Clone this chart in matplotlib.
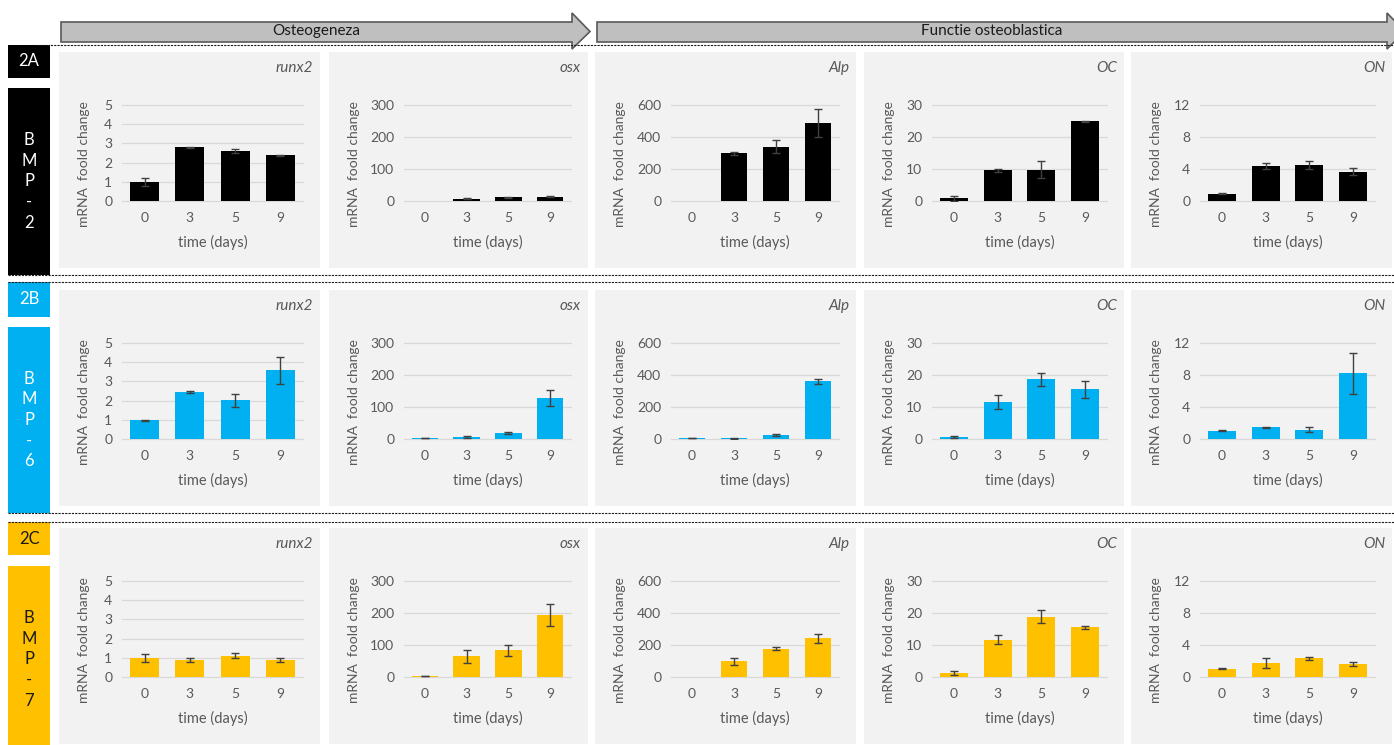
import matplotlib.pyplot as plt
from matplotlib.patches import Rectangle, Polygon

plt.rcParams['font.family'] = ['Lato', 'DejaVu Sans']

nan = float('nan')

# sampling days and genes
days = ['0', '3', '5', '9']
genes = ['runx2', 'osx', 'Alp', 'OC', 'ON']
y_tops = [5, 300, 600, 30, 12]
y_steps = [1, 100, 200, 10, 4]

# BMP-2 (means and standard errors, one list per gene)
bmp2_means = [[1.0, 2.8, 2.6, 2.38],
              [0.5, 7, 11, 14],
              [0.5, 298, 340, 486],
              [0.8, 9.6, 9.8, 24.9],
              [0.92, 4.4, 4.5, 3.65]]
bmp2_errs = [[0.22, 0.02, 0.1, 0.03],
             [nan, 2, 2, 2],
             [nan, 10, 42, 88],
             [0.7, 0.5, 2.7, 0.2],
             [0.1, 0.4, 0.5, 0.42]]

# BMP-6
bmp6_means = [[0.98, 2.45, 2.02, 3.58],
              [4, 7, 18.6, 128],
              [5, 6, 23, 360],
              [0.72, 11.6, 18.6, 15.5],
              [1.03, 1.45, 1.16, 8.2]]
bmp6_errs = [[0.02, 0.03, 0.33, 0.7],
             [0.5, 3, 3, 25],
             [0.5, 3, 6, 17],
             [0.3, 2.1, 2.1, 2.6],
             [0.05, 0.08, 0.3, 2.6]]

# BMP-7
bmp7_means = [[0.99, 0.89, 1.11, 0.89],
              [3, 65, 83, 194],
              [0, 98, 177, 242],
              [1.24, 11.6, 18.8, 15.5],
              [1.04, 1.79, 2.33, 1.62]]
bmp7_errs = [[0.22, 0.1, 0.12, 0.09],
             [1, 20, 16, 34],
             [nan, 20, 8, 29],
             [0.5, 1.4, 2.0, 0.5],
             [0.08, 0.63, 0.17, 0.3]]

row_tags = ['2A', '2B', '2C']
row_names = ['BMP-2', 'BMP-6', 'BMP-7']
row_colors = ['#000000', '#00B0F0', '#FFC000']
row_text = ['white', 'white', '#1a1a1a']
row_means = [bmp2_means, bmp6_means, bmp7_means]
row_errs = [bmp2_errs, bmp6_errs, bmp7_errs]

W, H = 1394, 745
fig = plt.figure(figsize=(W / 100, H / 100), dpi=100)

# background layer in pixel units for boxes, arrows and dashed separators
bg = fig.add_axes([0, 0, 1, 1])
bg.set_xlim(0, W)
bg.set_ylim(H, 0)
bg.axis('off')

grey_txt = '#595959'

# phase arrows on top
def arrow(x0, x_base, x_tip, label):
    pts = [(x0, 22), (x_base, 22), (x_base, 13), (x_tip, 31.5),
           (x_base, 49), (x_base, 42), (x0, 42)]
    bg.add_patch(Polygon(pts, closed=True, facecolor='#BFBFBF',
                         edgecolor='#595959', lw=1.2))
    bg.text((x0 + x_base) / 2, 31, label, ha='center', va='center',
            fontsize=11, color='#1a1a1a')

arrow(61, 572, 590, 'Osteogeneza')
arrow(597, 1387, 1405, 'Functie osteoblastica')

# dashed separators between the rows
for y, x0 in [(45, 37), (275, 8), (282, 8), (513, 8), (522, 8)]:
    bg.plot([x0, W], [y, y], color='#1a1a1a', lw=0.8,
            linestyle=(0, (2, 1)))

col_x = [(59, 320), (329, 588), (595, 856), (864, 1124), (1131, 1392)]
col_left = [63, 75, 76, 68, 69]
row_y = [52, 290, 528]
tag_y = [(45, 78), (282, 317), (522, 555)]
name_y = [(88, 275), (327, 513), (566, 745)]
panel_h = 216

for r in range(3):
    c = row_colors[r]
    t0, t1 = tag_y[r]
    bg.add_patch(Rectangle((8, t0), 42, t1 - t0, facecolor=c, edgecolor='none'))
    bg.text(29, (t0 + t1) / 2, row_tags[r], ha='center', va='center',
            fontsize=12, color=row_text[r])
    n0, n1 = name_y[r]
    bg.add_patch(Rectangle((8, n0), 42, n1 - n0, facecolor=c, edgecolor='none'))
    bg.text(29, (n0 + 183 / 2) + 2 if r == 2 else (n0 + n1) / 2,
            '\n'.join(row_names[r]), ha='center', va='center',
            fontsize=12, color=row_text[r], linespacing=1.35)

    py = row_y[r]
    for g in range(5):
        px0, px1 = col_x[g]
        bg.add_patch(Rectangle((px0, py), px1 - px0, panel_h,
                               facecolor='#F2F2F2', edgecolor='none'))
        bg.text(px1 - 7, py + 16, genes[g], ha='right', va='center',
                fontsize=11, style='italic', color=grey_txt)

        ax0 = px0 + col_left[g]
        ax1 = px1 - 17
        ax = fig.add_axes([ax0 / W, 1 - (py + 149) / H,
                           (ax1 - ax0) / W, 96 / H])
        ax.patch.set_alpha(0)
        top = y_tops[g]
        ticks = list(range(0, top + 1, y_steps[g]))
        for tk in ticks:
            ax.axhline(tk, color='#D9D9D9', lw=0.9, zorder=0, clip_on=False)
        ax.bar(range(4), row_means[r][g], width=0.64, color=c, zorder=2)
        ax.errorbar(range(4), row_means[r][g], yerr=row_errs[r][g],
                    fmt='none', ecolor='#404040', elinewidth=1,
                    capsize=3, capthick=1, zorder=3)
        ax.set_xlim(-0.5, 3.5)
        ax.set_ylim(0, top)
        ax.set_yticks(ticks)
        ax.set_xticks(range(4))
        ax.set_xticklabels(days)
        for s in ax.spines.values():
            s.set_visible(False)
        ax.tick_params(axis='both', length=0, labelsize=10, colors=grey_txt)
        ax.tick_params(axis='y', pad=7)
        ax.tick_params(axis='x', pad=8)

        bg.text((ax0 + ax1) / 2, py + 190, 'time (days)', ha='center',
                va='center', fontsize=10.5, color=grey_txt)
        bg.text(px0 + 25, py + 112, 'mRNA  foold change', ha='center',
                va='center', rotation=90, fontsize=10, color=grey_txt)

fig.savefig('out.png', dpi=100)
